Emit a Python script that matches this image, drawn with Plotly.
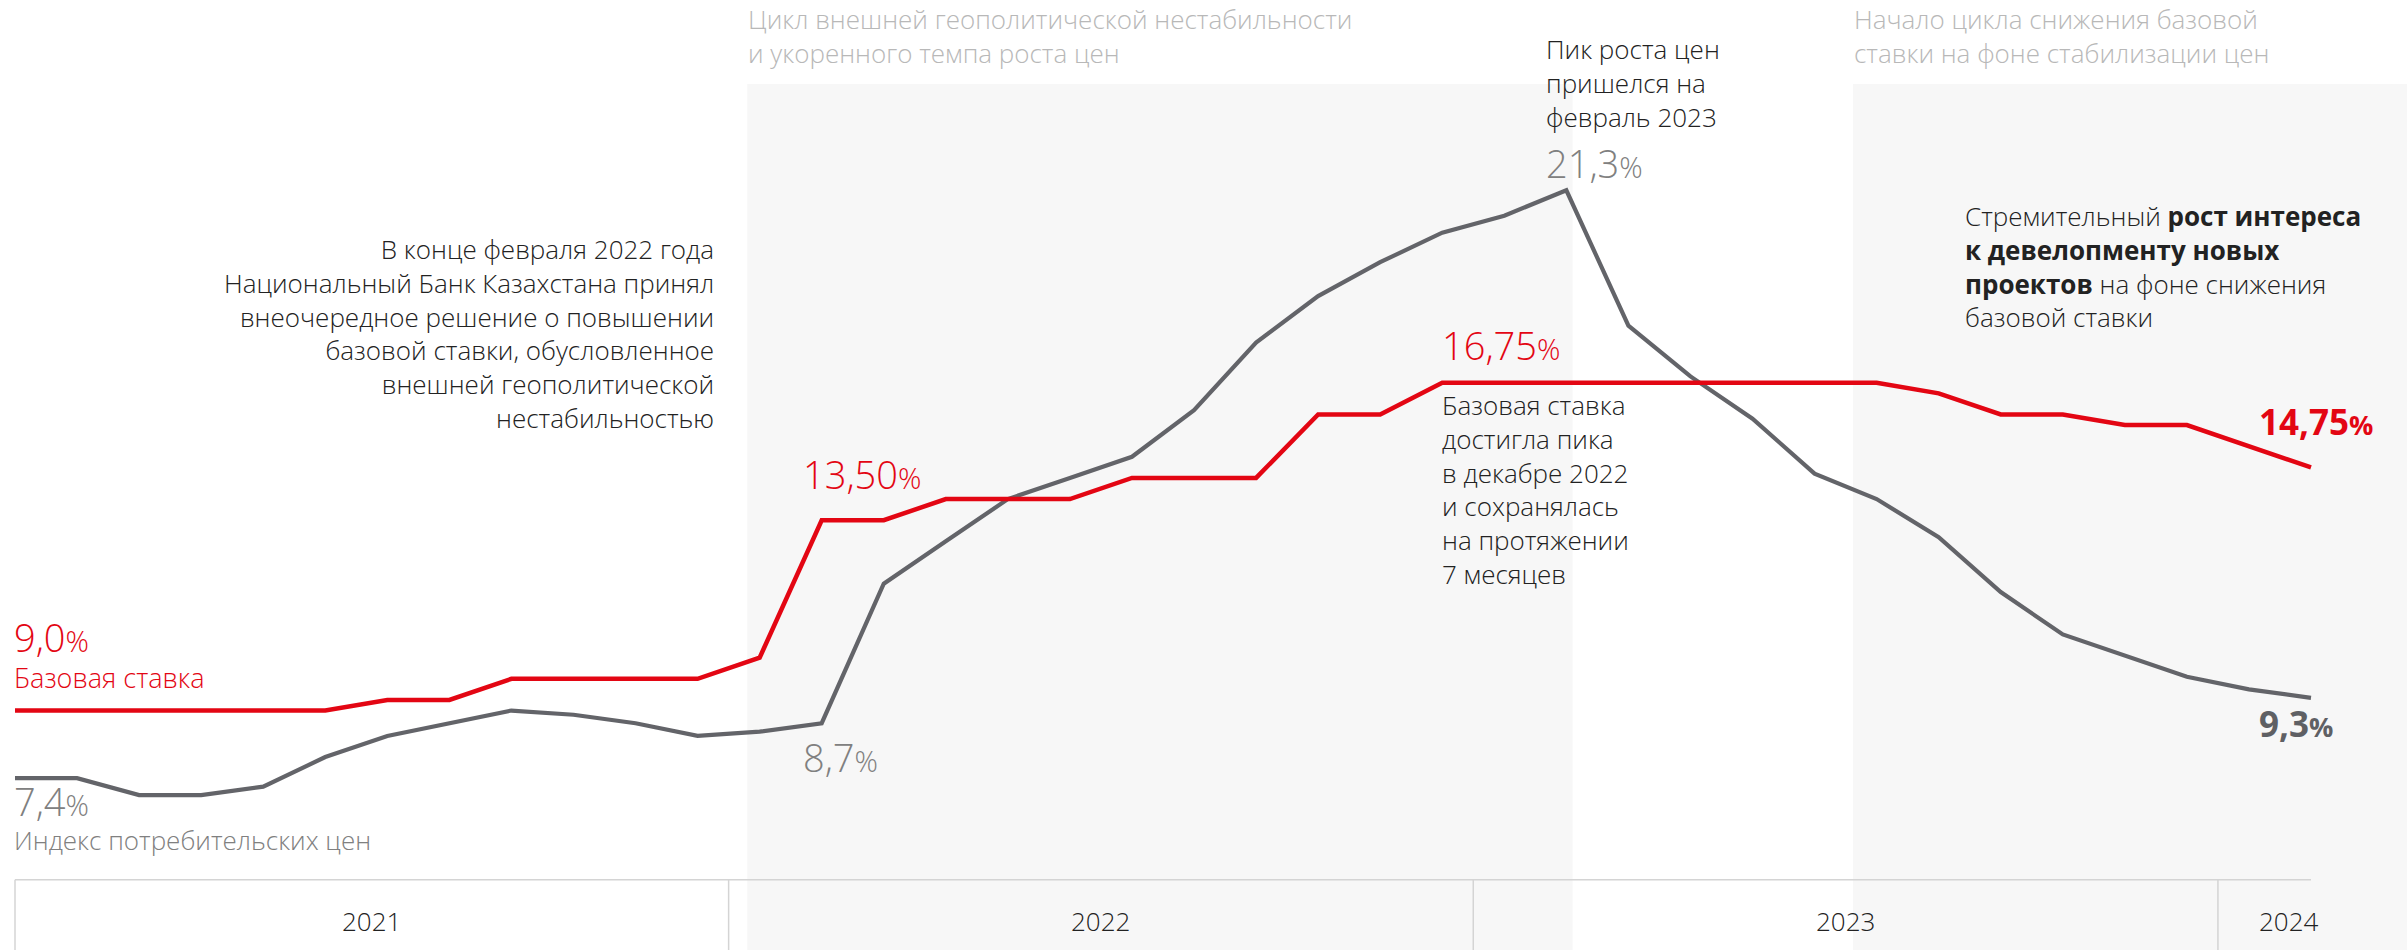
import plotly.graph_objects as go

# ---------------- data ----------------
months = [f"{y}-{m:02d}" for y in (2021, 2022, 2023) for m in range(1, 13)] + ["2024-01", "2024-02"]
years = ["2021", "2022", "2023", "2024"]

cpi = [7.4, 7.4, 7.0, 7.0, 7.2, 7.9, 8.4, 8.7, 9.0, 8.9, 8.7, 8.4,
       8.5, 8.7, 12.0, 13.0, 14.0, 14.5, 15.0, 16.1, 17.7, 18.8, 19.6, 20.3,
       20.7, 21.3, 18.1, 16.9, 15.9, 14.6, 14.0, 13.1, 11.8, 10.8, 10.3, 9.8,
       9.5, 9.3]
rate = [9.0, 9.0, 9.0, 9.0, 9.0, 9.0, 9.25, 9.25, 9.75, 9.75, 9.75, 9.75,
        10.25, 13.5, 13.5, 14.0, 14.0, 14.0, 14.5, 14.5, 14.5, 16.0, 16.0, 16.75,
        16.75, 16.75, 16.75, 16.75, 16.75, 16.75, 16.75, 16.5, 16.0, 16.0, 15.75, 15.75,
        15.25, 14.75]

header_1 = ["Цикл внешней геополитической нестабильности", "и укоренного темпа роста цен"]
header_2 = ["Начало цикла снижения базовой", "ставки на фоне стабилизации цен"]
note_peak = ["Пик роста цен", "пришелся на", "февраль 2023"]
note_feb = ["В конце февраля 2022 года", "Национальный Банк Казахстана принял",
            "внеочередное решение о повышении", "базовой ставки, обусловленное",
            "внешней геополитической", "нестабильностью"]
note_rate = ["Базовая ставка", "достигла пика", "в декабре 2022", "и сохранялась",
             "на протяжении", "7 месяцев"]
note_dev = ["Стремительный <b>рост интереса</b>", "<b>к девелопменту новых</b>",
            "<b>проектов</b> на фоне снижения", "базовой ставки"]

# ---------------- geometry helpers ----------------
W, H = 2407, 950
FONT = "Open Sans"
RED = "#e30613"
GRAY = "#636469"
DARK = "#222222"
LIGHT = "#b8b8b8"
NUMGRAY = "#808080"
TS = 26  # text size

x = list(range(len(months)))
xr = [-0.2417, 38.547]
yr = [3.338, 25.80]


def px(p):
    return p / W


def py(p):
    return 1 - p / H


fig = go.Figure()

# shaded periods (in month index units)
fig.add_shape(type="rect", xref="x", yref="paper", x0=11.8, x1=25.1, y0=0, y1=py(84),
              fillcolor="#f7f7f7", line_width=0, layer="below")
fig.add_shape(type="rect", xref="x", yref="paper", x0=29.62, x1=xr[1], y0=0, y1=py(84),
              fillcolor="#f7f7f7", line_width=0, layer="below")

# lines
fig.add_trace(go.Scatter(x=x, y=cpi, mode="lines", line=dict(color=GRAY, width=4.2),
                         hoverinfo="skip"))
fig.add_trace(go.Scatter(x=x, y=rate, mode="lines", line=dict(color=RED, width=4.5),
                         hoverinfo="skip"))

# bottom axis with year separators
fig.add_shape(type="line", xref="x", yref="y", x0=0, x1=len(months) - 1, y0=5.0, y1=5.0,
              line=dict(color="#d4d4d4", width=1.5))
year_of = [m[:4] for m in months]
bounds = [0]
for i in range(1, len(months)):
    if year_of[i] != year_of[i - 1]:
        bounds.append(i - 0.5)
for b in bounds:
    fig.add_shape(type="line", xref="x", yref="y", x0=b, x1=b, y0=5.0, y1=yr[0],
                  line=dict(color="#d4d4d4", width=1.5))
ends = bounds[1:] + [len(months) - 0.2]
annots = []
for yname, b0, b1 in zip(years, bounds, ends):
    annots.append(dict(x=(b0 + b1) / 2, y=py(921), xref="x", yref="paper", text=yname,
                       showarrow=False, xanchor="center", yanchor="middle",
                       font=dict(family=FONT, size=26, color=DARK, weight=300)))


def pct(val, small):
    return f"{val}<span style='font-size:{small}px'>%</span>"


def txt(text, x0, yc, color, size=TS, anchor="left", weight=300):
    annots.append(dict(x=px(x0), y=py(yc), xref="paper", yref="paper", text=text,
                       showarrow=False, xanchor=anchor, yanchor="middle", align=anchor,
                       font=dict(family=FONT, size=size, color=color, weight=weight)))


def block(lines, x0, y_first, y_last, color, anchor="left", size=TS):
    txt("<br>".join(lines), x0, (y_first + y_last) / 2, color, size=size, anchor=anchor)


# period headers
block(header_1, 746, 21, 52, LIGHT)
block(header_2, 1852, 21, 52, LIGHT)

# notes
block(note_peak, 1544, 52, 115, DARK)
block(note_feb, 716, 253, 414, DARK, anchor="right")
block(note_rate, 1440, 410, 568, DARK)
block(note_dev, 1963, 219.5, 313, DARK)

# value labels
txt(pct("21,3", 29), 1544, 163, NUMGRAY, size=38)
txt(pct("13,50", 29), 801, 474, RED, size=38)
txt(pct("8,7", 29), 801, 757, NUMGRAY, size=38)
txt(pct("16,75", 29), 1440, 345, RED, size=38)
txt(pct("9,0", 29), 12, 637, RED, size=38)
txt("Базовая ставка", 12, 677, RED, size=27)
txt(pct("7,4", 29), 12, 801, NUMGRAY, size=38)
txt("Индекс потребительских цен", 12, 840, NUMGRAY, size=TS)
txt("<b>" + pct("14,75", 27) + "</b>", 2257, 421, RED, size=35, weight=700)
txt("<b>" + pct("9,3", 27) + "</b>", 2257, 723, "#5f6064", size=35, weight=700)

fig.update_layout(
    width=W, height=H, margin=dict(l=0, r=0, t=0, b=0),
    paper_bgcolor="white", plot_bgcolor="white", showlegend=False,
    xaxis=dict(range=xr, visible=False, fixedrange=True),
    yaxis=dict(range=yr, visible=False, fixedrange=True),
    annotations=annots,
)
fig.write_html("out.html")
